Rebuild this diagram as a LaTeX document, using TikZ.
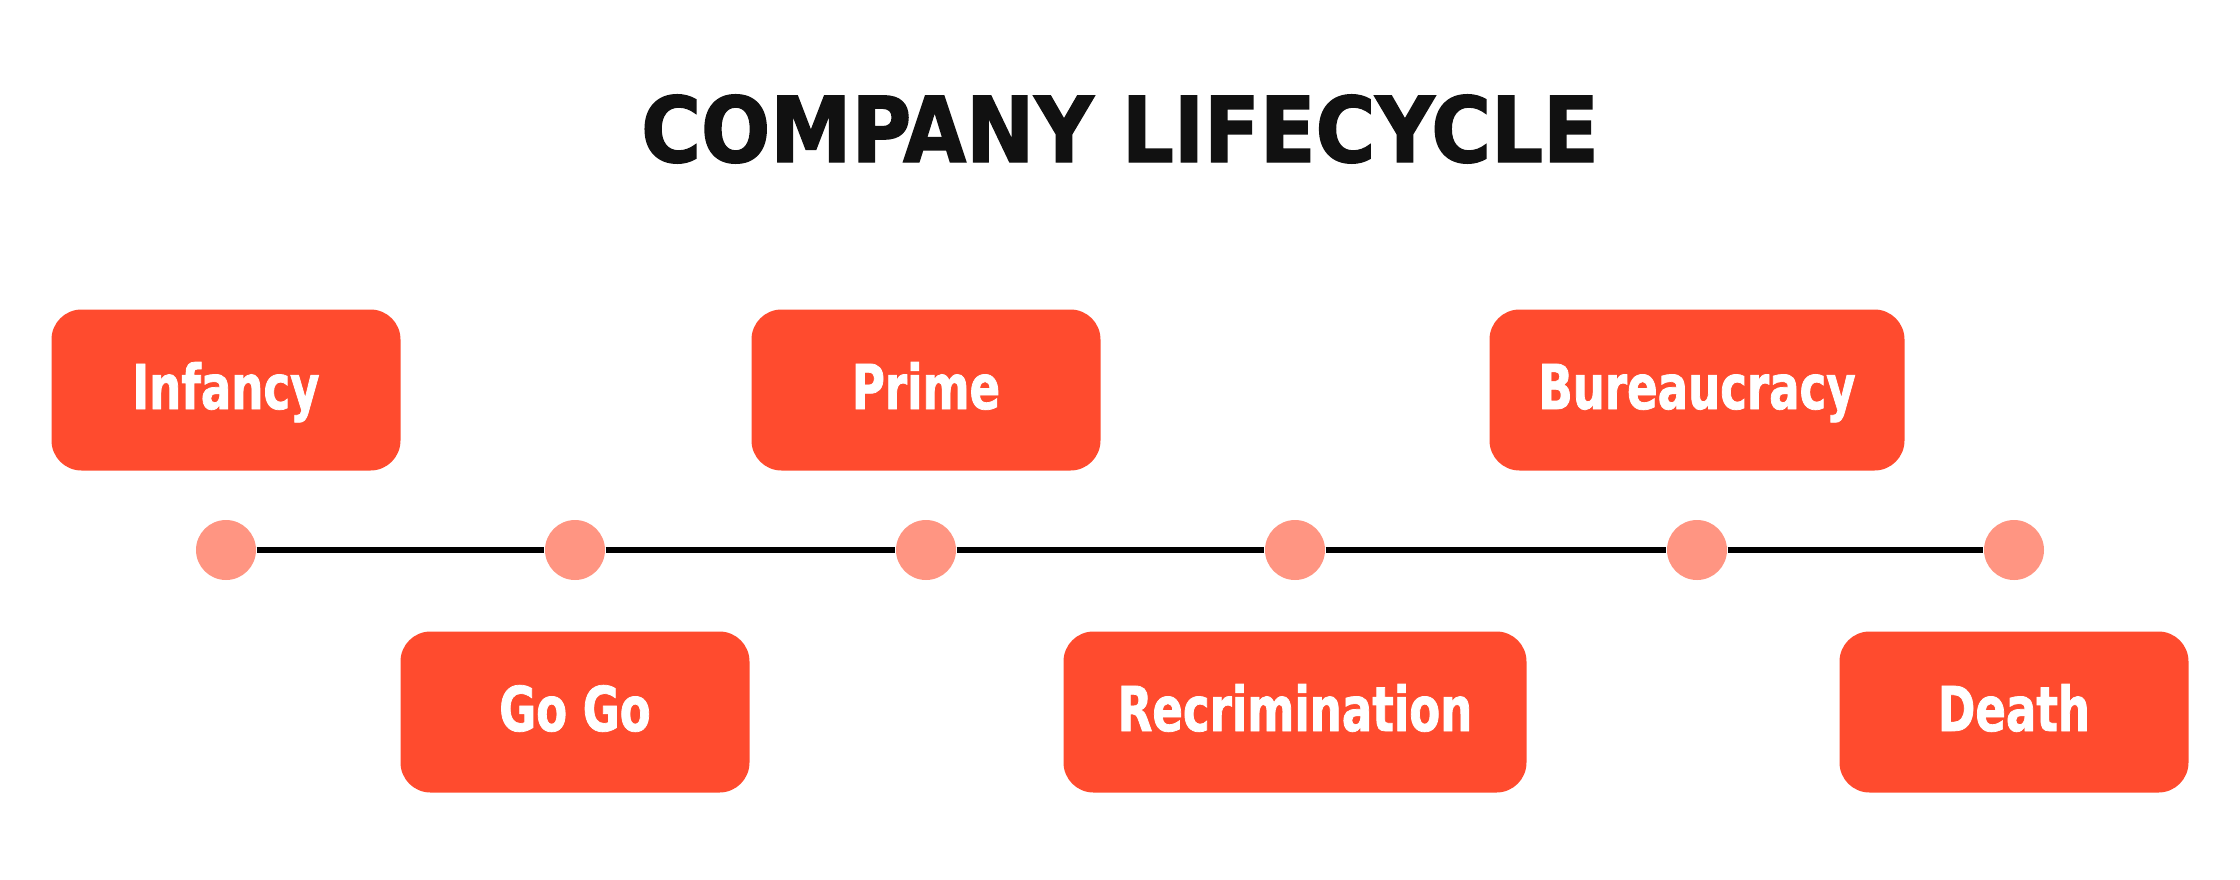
\documentclass[tikz,border=0pt]{standalone}
\usepackage{xcolor}
\usepackage{fontspec}
\usepackage{tikz}

\newfontfamily\titlefont[FakeBold=1.6]{DejaVu Sans Condensed Bold}
\newfontfamily\stagefont[FakeBold=1.2,FakeStretch=0.81]{DejaVu Sans Condensed Bold}

\definecolor{stagered}{RGB}{255,75,46}
\definecolor{dotpink}{RGB}{255,149,130}
\definecolor{titleblack}{RGB}{17,17,17}

\begin{document}
\begin{tikzpicture}[
    x=0.1mm, y=-0.1mm,
    stage/.style={
        fill=stagered,
        rounded corners=3mm,
        align=center,
        text=white,
        minimum width=34.9mm,
        minimum height=16.1mm,
        text height=4.5mm,
        text depth=0.7mm,
        inner sep=0pt,
        font=\stagefont\fontsize{17.6}{20}\selectfont
    },
    milestone/.style={
        circle,
        fill=dotpink,
        inner sep=0pt,
        minimum size=6mm
    },
    timeline/.style={
        line width=0.6mm,
        black
    }
]

\useasboundingbox (0,0) rectangle (2240,879);

% Title
\node[text=titleblack, inner sep=0pt, text height=6.6mm, text depth=0mm,
      font=\titlefont\fontsize{25.8}{30}\selectfont] (title) at (1120,129)
{COMPANY LIFECYCLE};

% Milestones on the line
\node[milestone] (infancydot) at (226,550) {};
\node[milestone] (gogodot) at (575,550) {};
\node[milestone] (primedot) at (926,550) {};
\node[milestone] (recrimdot) at (1295,550) {};
\node[milestone] (bureaudot) at (1697,550) {};
\node[milestone] (deathdot) at (2014,550) {};

% Line
\draw[timeline] (infancydot) -- (gogodot);
\draw[timeline] (gogodot) -- (primedot);
\draw[timeline] (primedot) -- (recrimdot);
\draw[timeline] (recrimdot) -- (bureaudot);
\draw[timeline] (bureaudot) -- (deathdot);

% Upper stages
\node[stage] (infancy) at (226,390)
{Infancy};

\node[stage] (prime) at (926,390)
{Prime};

\node[stage, minimum width=41.5mm] (bureaucracy) at (1697,390)
{Bureaucracy};

% Lower stages
\node[stage] (gogo) at (575,712)
{Go Go};

\node[stage, minimum width=46.3mm] (recrimination) at (1295,712)
{Recrimination};

\node[stage] (death) at (2014,712)
{Death};

\end{tikzpicture}
\end{document}
